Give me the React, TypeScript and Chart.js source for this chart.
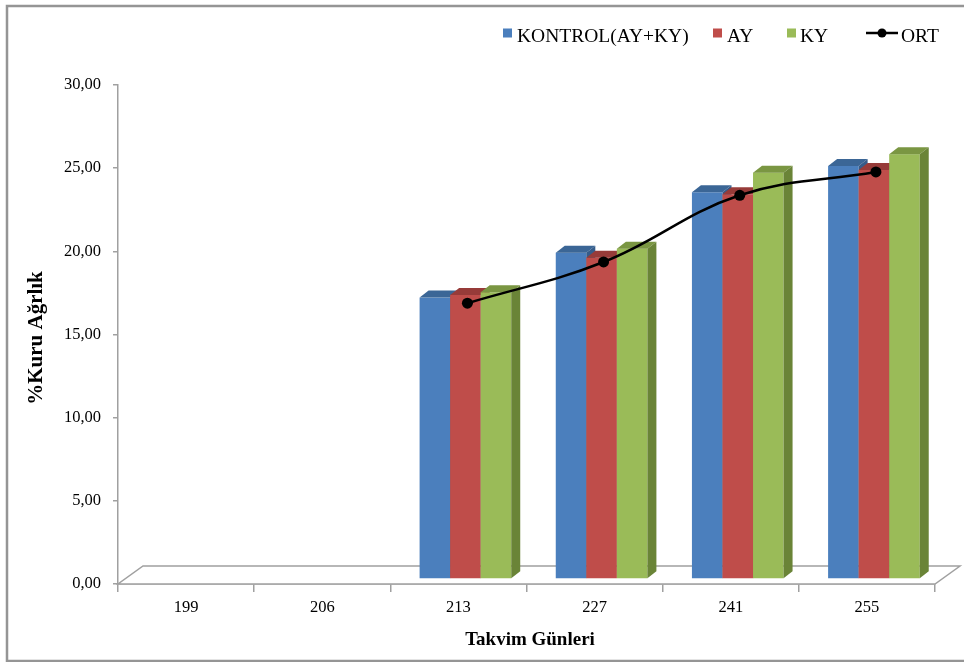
import React, { useEffect, useRef } from "react";
import { Chart, registerables } from "chart.js";

Chart.register(...registerables);

// Takvim günleri (x categories)
const days = ["199", "206", "213", "227", "241", "255"];
// % kuru ağırlık per group
const kontrol = [null, null, 16.92, 19.62, 23.25, 24.83];
const ay = [null, null, 17.08, 19.32, 23.13, 24.59];
const ky = [null, null, 17.24, 19.86, 24.43, 25.54];
const ort = [null, null, 16.52, 19.0, 23.01, 24.41];

const seriesLabels = ["KONTROL(AY+KY)", "AY", "KY", "ORT"];

const yMin = 0;
const yMax = 30;
const yStep = 5;

const FONT = "'Liberation Serif', 'Times New Roman', serif";
const AXIS_GRAY = "#a0a0a0";

// front / top / side colours of each 3D column
const faces = [
  { front: "#4b7fbd", top: "#3b6696", side: "#355c8a" },
  { front: "#bf4d4a", top: "#973b39", side: "#8b3532" },
  { front: "#9abb58", top: "#7a9642", side: "#6a8437" },
];

// depth vectors of the 3D floor and columns
const FLOOR_DEPTH = { x: 25, y: -18 };
const BAR_SHIFT = { x: 7, y: -5 };
const BAR_DEPTH = { x: 9, y: -7 };
const LINE_SHIFT = { x: 9, y: -6 };

const depthPlugin = {
  id: "depth3d",
  beforeDatasetsDraw(chart: any) {
    const { ctx } = chart;
    const xs = chart.scales.x;
    const ys = chart.scales.y;
    const y0 = ys.getPixelForValue(0);
    const l = xs.left;
    const r = xs.right;

    // floor
    ctx.save();
    ctx.beginPath();
    ctx.moveTo(l, y0);
    ctx.lineTo(r, y0);
    ctx.lineTo(r + FLOOR_DEPTH.x, y0 + FLOOR_DEPTH.y);
    ctx.lineTo(l + FLOOR_DEPTH.x, y0 + FLOOR_DEPTH.y);
    ctx.closePath();
    ctx.fillStyle = "#ffffff";
    ctx.fill();
    ctx.strokeStyle = AXIS_GRAY;
    ctx.lineWidth = 1.5;
    ctx.stroke();

    // columns, left to right inside each category
    for (let i = 0; i < days.length; i++) {
      for (let d = 0; d < 3; d++) {
        const meta = chart.getDatasetMeta(d);
        const el = meta.data[i];
        const v = chart.data.datasets[d].data[i];
        if (!el || v === null || v === undefined) continue;
        const p = el.getProps(["x", "y", "base", "width"], true);
        const x0 = p.x - p.width / 2 + BAR_SHIFT.x;
        const x1 = p.x + p.width / 2 + BAR_SHIFT.x;
        const yt = p.y + BAR_SHIFT.y;
        const yb = p.base + BAR_SHIFT.y;
        const c = faces[d];
        ctx.fillStyle = c.front;
        ctx.fillRect(x0, yt, x1 - x0, yb - yt);
        ctx.beginPath();
        ctx.moveTo(x0, yt);
        ctx.lineTo(x1, yt);
        ctx.lineTo(x1 + BAR_DEPTH.x, yt + BAR_DEPTH.y);
        ctx.lineTo(x0 + BAR_DEPTH.x, yt + BAR_DEPTH.y);
        ctx.closePath();
        ctx.fillStyle = c.top;
        ctx.fill();
        ctx.beginPath();
        ctx.moveTo(x1, yt);
        ctx.lineTo(x1 + BAR_DEPTH.x, yt + BAR_DEPTH.y);
        ctx.lineTo(x1 + BAR_DEPTH.x, yb + BAR_DEPTH.y);
        ctx.lineTo(x1, yb);
        ctx.closePath();
        ctx.fillStyle = c.side;
        ctx.fill();
      }
    }
    ctx.restore();
  },
  beforeDatasetDraw(chart: any, args: any) {
    const ds = chart.data.datasets[args.index];
    if (ds.type !== "line") return false;
    chart.ctx.save();
    chart.ctx.translate(LINE_SHIFT.x, LINE_SHIFT.y);
    return undefined;
  },
  afterDatasetDraw(chart: any, args: any) {
    const ds = chart.data.datasets[args.index];
    if (ds.type === "line") chart.ctx.restore();
  },
  afterDraw(chart: any) {
    const { ctx } = chart;
    ctx.save();

    // outer frame
    ctx.strokeStyle = "#959595";
    ctx.lineWidth = 2.5;
    ctx.beginPath();
    ctx.moveTo(964, 6);
    ctx.lineTo(7, 6);
    ctx.lineTo(7, 661);
    ctx.lineTo(964, 661);
    ctx.stroke();

    // legend
    ctx.font = `19.5px ${FONT}`;
    ctx.textBaseline = "alphabetic";
    ctx.fillStyle = "#000";
    const legendY = 41.5;
    const boxes = [
      { bx: 503, tx: 517 },
      { bx: 713, tx: 727 },
      { bx: 787, tx: 800 },
    ];
    boxes.forEach((b, k) => {
      ctx.fillStyle = faces[k].front;
      ctx.fillRect(b.bx, 28.5, 9, 9);
      ctx.fillStyle = "#000";
      ctx.textAlign = "left";
      ctx.fillText(seriesLabels[k], b.tx, legendY);
    });
    ctx.strokeStyle = "#000";
    ctx.lineWidth = 2.5;
    ctx.beginPath();
    ctx.moveTo(866, 33);
    ctx.lineTo(898, 33);
    ctx.stroke();
    ctx.beginPath();
    ctx.arc(882, 33, 4.5, 0, Math.PI * 2);
    ctx.fillStyle = "#000";
    ctx.fill();
    ctx.fillText(seriesLabels[3], 901, legendY);

    // axis titles
    ctx.font = `bold 19px ${FONT}`;
    ctx.textAlign = "center";
    ctx.textBaseline = "middle";
    ctx.fillText("Takvim Günleri", 530, 640);
    ctx.font = `bold 21px ${FONT}`;
    ctx.translate(37, 338);
    ctx.rotate(-Math.PI / 2);
    ctx.fillText("%Kuru Ağrlık", 0, 0);
    ctx.restore();
  },
};

export default function App() {
  const ref = useRef<HTMLCanvasElement | null>(null);

  useEffect(() => {
    if (!ref.current) return;
    const chart = new Chart(ref.current, {
      type: "bar",
      data: {
        labels: days,
        datasets: [
          { type: "bar", label: seriesLabels[0], data: kontrol, backgroundColor: faces[0].front, order: 1 },
          { type: "bar", label: seriesLabels[1], data: ay, backgroundColor: faces[1].front, order: 1 },
          { type: "bar", label: seriesLabels[2], data: ky, backgroundColor: faces[2].front, order: 1 },
          {
            type: "line",
            label: seriesLabels[3],
            data: ort,
            borderColor: "#000",
            backgroundColor: "#000",
            borderWidth: 2.5,
            pointRadius: 5.5,
            pointBackgroundColor: "#000",
            pointBorderWidth: 0,
            tension: 0.4,
            order: 0,
          },
        ] as any,
      },
      options: {
        animation: false,
        responsive: false,
        maintainAspectRatio: false,
        layout: { padding: { left: 0, top: 85, right: 29, bottom: 0 } },
        datasets: { bar: { categoryPercentage: 0.673, barPercentage: 1 } },
        plugins: { legend: { display: false }, tooltip: { enabled: false } },
        scales: {
          x: {
            grid: {
              offset: true,
              drawOnChartArea: false,
              drawTicks: true,
              tickLength: 8,
              color: AXIS_GRAY,
              lineWidth: 1.5,
            },
            border: { display: true, color: AXIS_GRAY, width: 1.5 },
            ticks: { font: { family: FONT, size: 16.5 }, color: "#000", padding: 6, maxRotation: 0 },
            afterFit: (s: any) => {
              s.height = 662 - 584;
            },
          },
          y: {
            min: yMin,
            max: yMax,
            ticks: {
              stepSize: yStep,
              font: { family: FONT, size: 16.5 },
              color: "#000",
              padding: 12,
              callback: (v: any) => Number(v).toFixed(2).replace(".", ","),
            },
            grid: { drawOnChartArea: false, drawTicks: true, tickLength: 5, color: AXIS_GRAY, lineWidth: 1.5 },
            border: { display: true, color: AXIS_GRAY, width: 1.5 },
            afterFit: (s: any) => {
              s.width = 118;
            },
          },
        },
      } as any,
      plugins: [depthPlugin],
    });
    return () => chart.destroy();
  }, []);

  return (
    <div style={{ position: "absolute", left: 0, top: 0, width: 964, height: 662, background: "#fff" }}>
      <canvas ref={ref} width={964} height={662} style={{ display: "block" }} />
    </div>
  );
}
